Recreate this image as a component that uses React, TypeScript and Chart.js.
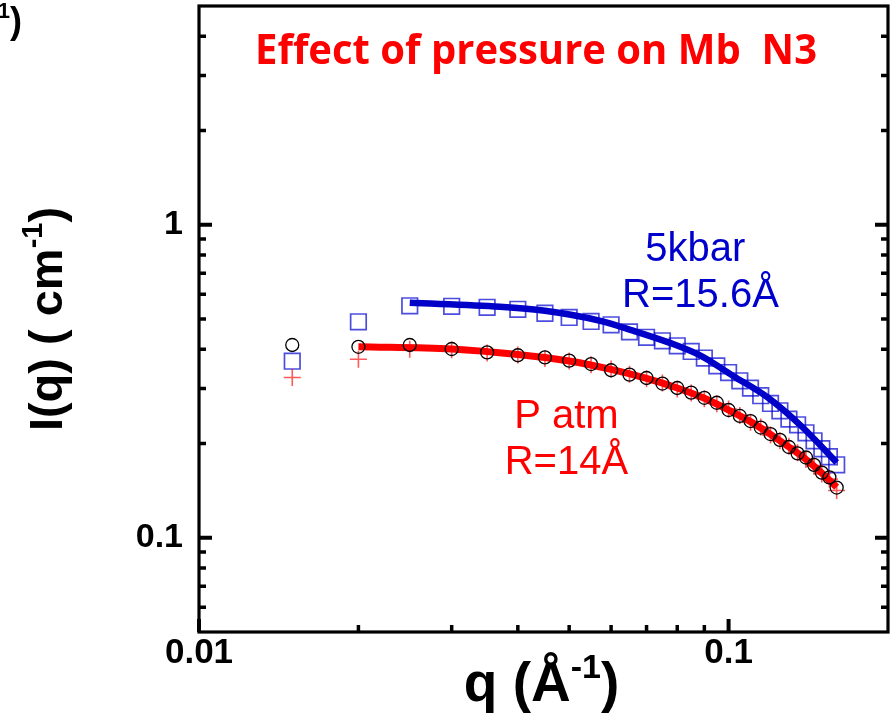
import React, { useEffect, useRef } from 'react';
import { Chart, registerables } from 'chart.js';

Chart.register(...registerables);

// ---------- data ----------
const qValues = [
  0.015, 0.02, 0.025, 0.03, 0.035, 0.04, 0.045, 0.05, 0.055, 0.06,
  0.065, 0.07, 0.075, 0.08, 0.085, 0.09, 0.095, 0.1, 0.105, 0.11,
  0.115, 0.12, 0.125, 0.13, 0.135, 0.14, 0.145, 0.15, 0.155, 0.16,
];
const patmCircles = [
  0.413, 0.4075, 0.413, 0.401, 0.391, 0.383, 0.377, 0.368, 0.359, 0.343,
  0.332, 0.324, 0.311, 0.301, 0.291, 0.28, 0.27, 0.256, 0.245, 0.236,
  0.225, 0.2145, 0.2055, 0.195, 0.186, 0.1805, 0.171, 0.1615, 0.156, 0.1447,
];
const patmPlus = [
  0.325, 0.372, 0.4, 0.399, 0.389, 0.384, 0.374, 0.367, 0.357, 0.346,
  0.333, 0.322, 0.312, 0.299, 0.29, 0.278, 0.268, 0.258, 0.246, 0.234,
  0.226, 0.213, 0.204, 0.196, 0.187, 0.178, 0.17, 0.16, 0.154, 0.1416,
];
const kbar5Squares = [
  0.3665, 0.4898, 0.551, 0.549, 0.545, 0.537, 0.5216, 0.5056, 0.491, 0.4792,
  0.455, 0.4371, 0.426, 0.4106, 0.3938, 0.3752, 0.3543, 0.3373, 0.3174, 0.3008,
  0.2843, 0.2686, 0.2545, 0.2394, 0.2296, 0.2165, 0.2041, 0.1925, 0.1815, 0.1711,
];
const patmFitQ = [0.02, 0.03, 0.04, 0.05, 0.06, 0.07, 0.08, 0.09, 0.1, 0.11, 0.12, 0.13, 0.14, 0.15, 0.16];
const patmFitI = [0.4075, 0.401, 0.385, 0.367, 0.345, 0.323, 0.301, 0.279, 0.256, 0.235, 0.214, 0.195, 0.178, 0.161, 0.145];
const kbar5FitQ = [0.025, 0.037, 0.045, 0.057, 0.066, 0.077, 0.0885, 0.102, 0.1185, 0.137, 0.16];
const kbar5FitI = [0.563, 0.547, 0.531, 0.494, 0.459, 0.421, 0.382, 0.329, 0.281, 0.228, 0.174];

const xMajorTicks = [0.01, 0.1];
const xMajorLabels = ['0.01', '0.1'];
const xMinorTicks = [0.02, 0.03, 0.04, 0.05, 0.06, 0.07, 0.08, 0.09];
const yMajorTicks = [0.1, 1];
const yMajorLabels = ['0.1', '1'];
const yMinorTicks = [0.06, 0.07, 0.08, 0.09, 0.2, 0.3, 0.4, 0.5, 0.6, 0.7, 0.8, 0.9, 2, 3, 4];

const titleText = 'Effect of pressure on Mb  N3';
const annotations = [
  { text: '5kbar', q: 0.0865, I: 0.767, color: '#0000cc' },
  { text: 'R=15.6Å', q: 0.0885, I: 0.547, color: '#0000cc' },
  { text: 'P atm', q: 0.0494, I: 0.2246, color: '#ff0000' },
  { text: 'R=14Å', q: 0.0494, I: 0.16, color: '#ff0000' },
];

const FONT = '"Liberation Sans", Arial, sans-serif';

type Seg = { t: string; sup?: boolean };

function drawRich(ctx: CanvasRenderingContext2D, segs: Seg[], x: number, y: number, size: number, align: 'center' | 'right' | 'left') {
  const supSize = Math.round(size * 0.62);
  const widths = segs.map((s) => {
    ctx.font = `bold ${s.sup ? supSize : size}px ${FONT}`;
    return ctx.measureText(s.t).width;
  });
  const total = widths.reduce((a, b) => a + b, 0);
  let cx = align === 'center' ? x - total / 2 : align === 'right' ? x - total : x;
  ctx.textAlign = 'left';
  ctx.textBaseline = 'alphabetic';
  segs.forEach((s, i) => {
    ctx.font = `bold ${s.sup ? supSize : size}px ${FONT}`;
    ctx.fillText(s.t, cx, s.sup ? y - size * 0.42 : y);
    cx += widths[i];
  });
}

const decorPlugin = {
  id: 'decor',
  afterDraw(chart: any) {
    const { ctx, chartArea: a, scales } = chart;
    const xs = scales.x;
    const ys = scales.y;
    ctx.save();
    ctx.strokeStyle = '#000';
    ctx.lineCap = 'butt';
    const vTick = (v: number, len: number, w: number) => {
      const px = xs.getPixelForValue(v);
      ctx.lineWidth = w;
      ctx.beginPath();
      ctx.moveTo(px, a.bottom);
      ctx.lineTo(px, a.bottom - len);
      ctx.stroke();
    };
    const hTick = (v: number, len: number, w: number) => {
      const py = ys.getPixelForValue(v);
      ctx.lineWidth = w;
      ctx.beginPath();
      ctx.moveTo(a.left, py);
      ctx.lineTo(a.left + len, py);
      ctx.moveTo(a.right, py);
      ctx.lineTo(a.right - len, py);
      ctx.stroke();
    };
    xMajorTicks.forEach((v) => vTick(v, 13, 4));
    xMinorTicks.forEach((v) => vTick(v, 7, 3.5));
    yMajorTicks.forEach((v) => hTick(v, 13, 4));
    yMinorTicks.forEach((v) => hTick(v, 7, 3.5));
    ctx.lineWidth = 3.2;
    ctx.strokeRect(a.left, a.top, a.right - a.left, a.bottom - a.top);

    // title
    ctx.fillStyle = '#ff0000';
    ctx.font = `bold 42px "Open Sans", Lato, sans-serif`;
    const tw = ctx.measureText(titleText).width;
    const target = 562;
    ctx.save();
    ctx.translate(536, 64);
    ctx.scale(target / tw, 1);
    ctx.textAlign = 'center';
    ctx.textBaseline = 'alphabetic';
    ctx.fillText(titleText, 0, 0);
    ctx.restore();

    // annotations
    ctx.font = `40px ${FONT}`;
    ctx.textAlign = 'center';
    ctx.textBaseline = 'alphabetic';
    annotations.forEach((an) => {
      ctx.fillStyle = an.color;
      ctx.fillText(an.text, xs.getPixelForValue(an.q), ys.getPixelForValue(an.I));
    });

    // axis titles
    ctx.fillStyle = '#000';
    drawRich(ctx, [{ t: 'q (Å' }, { t: '-1', sup: true }, { t: ')' }], (a.left + a.right) / 2 - 2, 701, 55, 'center');
    ctx.save();
    ctx.translate(62, (a.top + a.bottom) / 2);
    ctx.rotate(-Math.PI / 2);
    drawRich(ctx, [{ t: 'I(q) ( cm' }, { t: '-1', sup: true }, { t: ')' }], 0, 0, 47, 'center');
    ctx.restore();

    // clipped fragment at top-left
    drawRich(ctx, [{ t: '( cm' }, { t: '-1', sup: true }, { t: ')' }], 22, 33, 36, 'right');
    ctx.restore();
  },
};

export default function App() {
  const ref = useRef<HTMLCanvasElement | null>(null);
  useEffect(() => {
    if (!ref.current) return;
    const pts = (xs: number[], ys: number[]) => xs.map((x, i) => ({ x, y: ys[i] }));
    const chart = new Chart(ref.current, {
      type: 'scatter',
      data: {
        datasets: [
          {
            label: 'P atm circles',
            data: pts(qValues, patmCircles),
            pointStyle: 'circle',
            pointRadius: 6.5,
            borderColor: '#000',
            backgroundColor: 'rgba(0,0,0,0)',
            pointBorderWidth: 1.3,
            showLine: false,
            order: 1,
          },
          {
            label: 'P atm plus',
            data: pts(qValues, patmPlus),
            pointStyle: 'cross',
            pointRadius: 8.5,
            borderColor: 'rgba(255,0,0,0.65)',
            pointBorderWidth: 1.6,
            showLine: false,
            order: 2,
          },
          {
            label: 'P atm fit',
            data: pts(patmFitQ, patmFitI),
            showLine: true,
            borderColor: '#ff0000',
            borderWidth: 7,
            pointRadius: 0,
            cubicInterpolationMode: 'monotone',
            order: 3,
          },
          {
            label: '5kbar fit',
            data: pts(kbar5FitQ, kbar5FitI),
            showLine: true,
            borderColor: '#0000c8',
            borderWidth: 6.5,
            pointRadius: 0,
            cubicInterpolationMode: 'monotone',
            order: 4,
          },
          {
            label: '5kbar squares',
            data: pts(qValues, kbar5Squares),
            pointStyle: 'rect',
            pointRadius: 11,
            borderColor: 'rgba(0,0,210,0.7)',
            backgroundColor: 'rgba(0,0,0,0)',
            pointBorderWidth: 1.7,
            showLine: false,
            order: 5,
          },
        ],
      },
      options: {
        responsive: false,
        animation: false,
        events: [],
        layout: { autoPadding: false, padding: { left: 0, top: 6, right: 6, bottom: 0 } },
        plugins: { legend: { display: false }, tooltip: { enabled: false }, title: { display: false } },
        scales: {
          x: {
            type: 'logarithmic',
            min: 0.01,
            max: 0.2,
            grid: { display: false, drawTicks: false },
            border: { display: false },
            afterBuildTicks: (s: any) => {
              s.ticks = xMajorTicks.map((v) => ({ value: v }));
            },
            afterFit: (s: any) => {
              s.height = 89;
              s.paddingLeft = 0;
              s.paddingRight = 0;
              s.paddingTop = 0;
              s.paddingBottom = 0;
            },
            ticks: {
              autoSkip: false,
              maxRotation: 0,
              padding: 0,
              color: '#000',
              font: { family: FONT, size: 35, weight: 'bold' },
              callback: (v: any) => {
                const i = xMajorTicks.indexOf(Number(v));
                return i >= 0 ? xMajorLabels[i] : '';
              },
            },
          },
          y: {
            type: 'logarithmic',
            min: 0.05,
            max: 5,
            grid: { display: false, drawTicks: false },
            border: { display: false },
            afterBuildTicks: (s: any) => {
              s.ticks = yMajorTicks.map((v) => ({ value: v }));
            },
            afterFit: (s: any) => {
              s.width = 199;
              s.paddingLeft = 0;
              s.paddingRight = 0;
              s.paddingTop = 0;
              s.paddingBottom = 0;
            },
            ticks: {
              autoSkip: false,
              padding: 16,
              color: '#000',
              font: { family: FONT, size: 34, weight: 'bold' },
              callback: (v: any) => {
                const i = yMajorTicks.indexOf(Number(v));
                return i >= 0 ? yMajorLabels[i] : '';
              },
            },
          },
        },
      },
      plugins: [decorPlugin],
    } as any);
    return () => chart.destroy();
  }, []);
  return (
    <div style={{ position: 'fixed', left: 0, top: 0, width: 894, height: 721, background: '#fff' }}>
      <canvas ref={ref} width={894} height={721} style={{ width: 894, height: 721, display: 'block' }} />
    </div>
  );
}
